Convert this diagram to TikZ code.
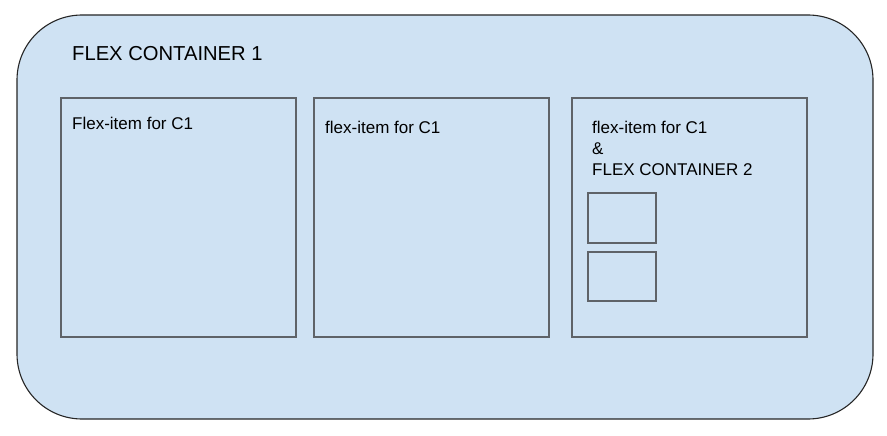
\documentclass[tikz,border=0pt]{standalone}
\usepackage{fontspec}
\setmainfont{Liberation Sans}
\definecolor{fillblue}{HTML}{CFE2F3}
\definecolor{boxgray}{HTML}{5F6368}
\begin{document}
\begin{tikzpicture}[x=1pt,y=-1pt,
  itembox/.style={draw=boxgray,line width=1.6pt},
  lbl/.style={anchor=base west,inner sep=0pt,font=\fontsize{17}{20.8}\selectfont},
]
\useasboundingbox[fill=white] (0,0) rectangle (887,436);
\draw[fill=fillblue,draw=black!85,line width=1.1pt,rounded corners=65pt] (17,15) rectangle (873,419);
\node[anchor=base west,inner sep=0pt,font=\fontsize{20.2}{24}\selectfont] (t1) at (72,61) {FLEX CONTAINER 1};
\draw[itembox] (61,98) rectangle (296,337);
\draw[itembox] (314,98) rectangle (549,337);
\draw[itembox] (572,98) rectangle (807,337);
\draw[itembox] (588,193) rectangle (656,243);
\draw[itembox] (588,252) rectangle (656,301);
\node[lbl] (l1) at (72,129) {Flex-item for C1};
\node[lbl] (l2) at (325,133) {flex-item for C1};
\node[lbl] (l3a) at (592,133) {flex-item for C1};
\node[lbl] (l3b) at (592,154) {\&};
\node[lbl] (l3c) at (592,175) {FLEX CONTAINER 2};
\end{tikzpicture}
\end{document}
